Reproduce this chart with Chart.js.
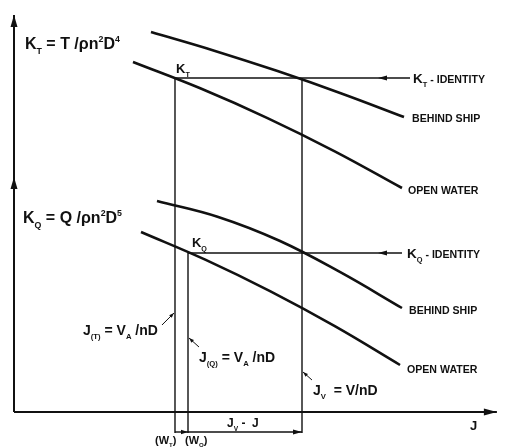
<!DOCTYPE html>
<html>
<head>
<meta charset="utf-8">
<script src="https://cdn.jsdelivr.net/npm/chart.js@4.4.1/dist/chart.umd.min.js"></script>
<style>
  html, body { margin: 0; padding: 0; background: #fff; }
  #wrap { width: 509px; height: 447px; }
</style>
</head>
<body>
<div id="wrap"><canvas id="propChart"></canvas></div>
<script>
// curves (J along x, K along y)
const ktBehindJ = [2.854, 4.172, 5.49, 6.807, 8.125];
const ktBehind  = [9.5, 9.033, 8.523, 7.971, 7.375];
const ktOpenJ   = [2.479, 3.880, 5.281, 6.682, 8.083];
const ktOpen    = [8.75, 8.092, 7.348, 6.517, 5.6];
const kqBehindJ = [2.979, 4.255, 5.531, 6.807, 8.083];
const kqBehind  = [5.275, 4.876, 4.281, 3.489, 2.6];
const kqOpenJ   = [2.646, 3.995, 5.344, 6.693, 8.042];
const kqOpen    = [4.5, 3.802, 3.015, 2.139, 1.175];

// construction values
const jT = 3.354;      // J(T)
const jQ = 3.625;      // J(Q)
const jV = 6.0;        // Jv
const ktId = 8.35;     // KT identity
const kqId = 3.975;    // KQ identity
const dimLevel = -0.5; // dimension line below J axis

const zip = (xs, ys) => xs.map((x, i) => ({ x: x, y: ys[i] }));

function line(data, opts) {
    return Object.assign({
        data: data,
        borderColor: '#111',
        borderWidth: 1.4,
        pointRadius: 0,
        tension: 0,
        clip: false
    }, opts || {});
}

function curve(xs, ys) {
    return line(zip(xs, ys), { borderWidth: 2.6, tension: 0.4 });
}

const datasets = [
    // axes
    line([{ x: 0, y: 0 }, { x: 0, y: 5.875 }, { x: 0, y: 9.925 }], { borderWidth: 2, arrows: [1, 2], arrowSize: [12, 3.5] }),
    line([{ x: 0, y: 0 }, { x: 10.06, y: 0 }], { borderWidth: 2, arrows: [1], arrowSize: [13, 3.5] }),
    // curves
    curve(ktBehindJ, ktBehind),
    curve(ktOpenJ, ktOpen),
    curve(kqBehindJ, kqBehind),
    curve(kqOpenJ, kqOpen),
    // identity lines
    line([{ x: 8.25, y: ktId }, { x: 7.583, y: ktId }, { x: jT, y: ktId }], { arrows: [1], arrowSize: [9, 2.5] }),
    line([{ x: 8.083, y: kqId }, { x: 7.583, y: kqId }, { x: jQ, y: kqId }], { arrows: [1], arrowSize: [9, 2.5] }),
    // verticals
    line([{ x: jT, y: ktId }, { x: jT, y: -0.525 }]),
    line([{ x: jQ, y: kqId }, { x: jQ, y: -0.525 }]),
    line([{ x: jV, y: ktId }, { x: jV, y: -0.525 }]),
    // dimension arrows
    line([{ x: jT, y: dimLevel }, { x: jQ, y: dimLevel }], { arrows: [1], arrowSize: [7, 2.2] }),
    line([{ x: jQ, y: dimLevel }, { x: jV, y: dimLevel }], { arrows: [1], arrowSize: [9, 2.5] }),
    // leaders
    line([{ x: 3.083, y: 2.175 }, { x: 3.333, y: 2.475 }], { borderWidth: 1, arrows: [1], arrowSize: [5, 1.8] }),
    line([{ x: 3.854, y: 1.625 }, { x: 3.646, y: 1.85 }], { borderWidth: 1, arrows: [1], arrowSize: [5, 1.8] }),
    line([{ x: 6.208, y: 0.8 }, { x: 6.021, y: 1.0 }], { borderWidth: 1, arrows: [1], arrowSize: [5, 1.8] })
];

// annotations: anchor in data units, parts = [text, kind]
const notes = [
    { x: 0.229, y: 9.225, size: 16, parts: [['K', 'n'], ['T', 'sub'], [' = T /\u03c1n', 'n'], ['2', 'sup'], ['D', 'n'], ['4', 'sup']] },
    { x: 3.375, y: 8.6, size: 13, parts: [['K', 'n'], ['T', 'sub']] },
    { x: 8.313, y: 8.35, size: 13.5, parts: [['K', 'n'], ['T', 'sub'], [' - IDENTITY', 'small']] },
    { x: 8.292, y: 7.375, size: 13, parts: [['BEHIND SHIP', 'small']] },
    { x: 8.208, y: 5.575, size: 13, parts: [['OPEN WATER', 'small']] },
    { x: 0.1875, y: 4.875, size: 16, parts: [['K', 'n'], ['Q', 'sub'], [' = Q /\u03c1n', 'n'], ['2', 'sup'], ['D', 'n'], ['5', 'sup']] },
    { x: 3.708, y: 4.25, size: 13, parts: [['K', 'n'], ['Q', 'sub']] },
    { x: 8.1875, y: 3.975, size: 13.5, parts: [['K', 'n'], ['Q', 'sub'], [' - IDENTITY', 'small']] },
    { x: 8.229, y: 2.575, size: 13, parts: [['BEHIND SHIP', 'small']] },
    { x: 1.4375, y: 2.05, size: 14, parts: [['J', 'n'], ['(T)', 'sub'], [' = V', 'n'], ['A', 'sub'], [' /nD', 'n']] },
    { x: 3.854, y: 1.375, size: 14, parts: [['J', 'n'], ['(Q)', 'sub'], [' = V', 'n'], ['A', 'sub'], [' /nD', 'n']] },
    { x: 8.1875, y: 1.1, size: 13, parts: [['OPEN WATER', 'small']] },
    { x: 6.229, y: 0.55, size: 14, parts: [['J', 'n'], ['V', 'sub'], ['  = V/nD', 'n']] },
    { x: 4.4375, y: -0.275, size: 12, parts: [['J', 'n'], ['V', 'sub'], [' -  J', 'n']] },
    { x: 9.5, y: -0.325, size: 13, parts: [['J', 'n']] },
    { x: 2.9375, y: -0.7, size: 11, parts: [['(W', 'n'], ['T', 'sub'], [')', 'n']] },
    { x: 3.5625, y: -0.7, size: 11, parts: [['(W', 'n'], ['Q', 'sub'], [')', 'n']] }
];

const FONT = '"Liberation Sans", Arial, Helvetica, sans-serif';

function drawRich(ctx, x, y, parts, size) {
    let cx = x;
    parts.forEach(p => {
        let fs = size, dy = 0;
        if (p[1] === 'sub') { fs = size * 0.55; dy = size * 0.3; }
        else if (p[1] === 'sup') { fs = size * 0.55; dy = -size * 0.4; }
        else if (p[1] === 'small') { fs = 10.6; }
        ctx.font = 'bold ' + fs.toFixed(1) + 'px ' + FONT;
        ctx.fillText(p[0], cx, y + dy);
        cx += ctx.measureText(p[0]).width;
    });
}

const whiteBg = {
    id: 'whiteBg',
    beforeDraw(chart) {
        const ctx = chart.ctx;
        ctx.save();
        ctx.fillStyle = '#fff';
        ctx.fillRect(0, 0, chart.width, chart.height);
        ctx.restore();
    }
};

const arrowsAndText = {
    id: 'arrowsAndText',
    afterDatasetsDraw(chart) {
        const ctx = chart.ctx;
        const xs = chart.scales.x, ys = chart.scales.y;
        ctx.save();
        ctx.fillStyle = '#111';
        chart.data.datasets.forEach(ds => {
            if (!ds.arrows) return;
            const len = ds.arrowSize[0], hw = ds.arrowSize[1];
            ds.arrows.forEach(i => {
                const a = ds.data[i - 1], b = ds.data[i];
                const x0 = xs.getPixelForValue(a.x), y0 = ys.getPixelForValue(a.y);
                const x1 = xs.getPixelForValue(b.x), y1 = ys.getPixelForValue(b.y);
                const ang = Math.atan2(y1 - y0, x1 - x0);
                ctx.save();
                ctx.translate(x1, y1);
                ctx.rotate(ang);
                ctx.beginPath();
                ctx.moveTo(0, 0);
                ctx.lineTo(-len, -hw);
                ctx.lineTo(-len, hw);
                ctx.closePath();
                ctx.fill();
                ctx.restore();
            });
        });
        ctx.textBaseline = 'alphabetic';
        ctx.textAlign = 'left';
        notes.forEach(n => {
            const px = xs.getPixelForValue(n.x);
            const py = ys.getPixelForValue(n.y) + n.size * 0.36;
            drawRich(ctx, px, py, n.parts, n.size);
        });
        ctx.restore();
    }
};

const ctx = document.getElementById('propChart').getContext('2d');
const propChart = new Chart(ctx, {
    type: 'line',
    data: { datasets: datasets },
    options: {
        responsive: true,
        maintainAspectRatio: false,
        animation: false,
        layout: { padding: 0 },
        plugins: { legend: { display: false }, tooltip: { enabled: false } },
        scales: {
            x: { type: 'linear', min: -14 / 48, max: 495 / 48, display: false },
            y: { type: 'linear', min: -35 / 40, max: 412 / 40, display: false }
        }
    },
    plugins: [whiteBg, arrowsAndText]
});
</script>
</body>
</html>
